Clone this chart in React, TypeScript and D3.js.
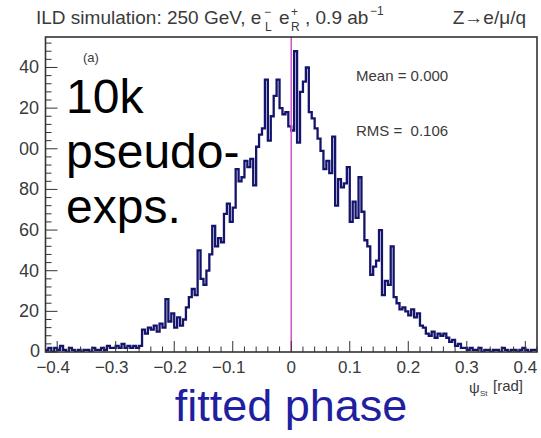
import React from 'react';
import * as d3 from 'd3';

// Histogram of fitted phase (10k pseudo-experiments)
const binLow = -0.42;
const binWidth = 0.005;
const counts: number[] = [
  1, 2, 0, 2, 1, 3, 1, 0, 2, 1, 0, 1, 0, 1, 1, 0, 2, 1, 1, 2,
  1, 3, 2, 2, 3, 2, 4, 2, 3, 2, 3, 2, 3,
  11, 9, 12, 11, 13, 10, 14, 12, 26, 15, 19, 12, 17, 13, 16, 22, 27, 31, 28, 50,
  36, 33, 40, 48, 62, 52, 56, 54, 68, 73, 64, 71, 90, 84, 86, 94, 91, 95, 82, 101,
  107, 110, 134, 104, 116, 126, 134, 120, 117, 118, 111, 109, 148, 103, 128, 133, 140, 118, 115, 110,
  105, 99, 90, 94, 88, 106, 72, 85, 81, 83, 91, 64, 74, 66, 86, 69, 55, 52, 38, 42,
  45, 60, 28, 35, 33, 52, 27, 24, 21, 22, 20, 18, 21, 17, 19, 13, 12, 9, 8, 10,
  7, 9, 8, 9, 7, 5, 6, 3, 4, 2, 2, 1, 2, 1, 1, 2, 0, 1, 1, 0,
  1, 1, 0, 2, 1, 0, 1, 1, 0, 1, 2, 1, 0, 1, 1,
];

const xDomain: [number, number] = [-0.42, 0.42];
const yDomain: [number, number] = [0, 155];
const xTicks = [-0.4, -0.3, -0.2, -0.1, 0, 0.1, 0.2, 0.3, 0.4];
const xTickLabels = ['\u22120.4', '\u22120.3', '\u22120.2', '\u22120.1', '0', '0.1', '0.2', '0.3', '0.4'];
const yTicks = [0, 20, 40, 60, 80, 100, 120, 140];
const yTickLabels = ['0', '20', '40', '60', '80', '100', '120', '140'];
const statLabels = ['Mean = 0.000', 'RMS =  0.106'];
const noteLines = ['10k', 'pseudo-', 'exps.'];
const panelLabel = '(a)';
const xTitle = 'fitted phase';
const markerValue = 0;

const W = 541;
const H = 438;
const F = 'Liberation Sans, Arial, Helvetica, sans-serif';
const frame = { left: 45.5, right: 537, top: 37, bottom: 352 };

export default function App() {
  const x = d3.scaleLinear().domain(xDomain).range([frame.left, frame.right]);
  const y = d3.scaleLinear().domain(yDomain).range([frame.bottom, frame.top]);

  const line = d3
    .line<[number, number]>()
    .x((d) => x(d[0]))
    .y((d) => y(d[1]))
    .curve(d3.curveStepAfter);
  const stepPts: [number, number][] = [];
  stepPts.push([binLow, 0]);
  counts.forEach((c, i) => stepPts.push([binLow + i * binWidth, c]));
  stepPts.push([binLow + counts.length * binWidth, 0]);
  const histPath = line(stepPts) || '';

  const xMinor = d3.range(-0.42, 0.4201, 0.02).map((v) => Math.round(v * 100) / 100);
  const yMinor = d3.range(0, 156, 4);
  const axisColor = '#333';
  const textColor = '#3a3a3a';

  return (
    <svg width={W} height={H} style={{ position: 'absolute', left: 0, top: 0, background: '#fff' }}>
      <defs>
        <clipPath id="plotclip">
          <rect x={frame.left} y={frame.top} width={frame.right - frame.left} height={frame.bottom - frame.top} />
        </clipPath>
        <clipPath id="ylabclip">
          <rect x={19.5} y={0} width={frame.left - 19.5} height={H} />
        </clipPath>
      </defs>

      {/* title */}
      <text x={36} y={24} fontFamily={F} fontSize={19} fill={textColor}>
        ILD simulation: 250 GeV, e
      </text>
      <text x={264} y={16} fontFamily={F} fontSize={12} fill={textColor}>{'\u2212'}</text>
      <text x={265} y={31} fontFamily={F} fontSize={12} fill={textColor}>L</text>
      <text x={279} y={24} fontFamily={F} fontSize={19} fill={textColor}>e</text>
      <text x={291} y={16} fontFamily={F} fontSize={12} fill={textColor}>+</text>
      <text x={291} y={31} fontFamily={F} fontSize={12} fill={textColor}>R</text>
      <text x={305} y={24} fontFamily={F} fontSize={19} fill={textColor}>, 0.9 ab</text>
      <text x={370} y={15} fontFamily={F} fontSize={12} fill={textColor}>{'\u22121'}</text>
      <text x={526} y={24} fontFamily={F} fontSize={19} fill={textColor} textAnchor="end">
        Z{'\u2192'}e/{'\u03bc'}/q
      </text>

      {/* histogram */}
      <g clipPath="url(#plotclip)">
        <path d={histPath} fill="none" stroke="#14146c" strokeWidth={2.3} strokeLinejoin="miter" />
        <line
          x1={x(markerValue)}
          x2={x(markerValue)}
          y1={frame.bottom}
          y2={frame.top}
          stroke="#cc5ccc"
          strokeWidth={1.6}
        />
      </g>

      {/* ticks */}
      {xMinor.map((v, i) => {
        const major = xTicks.some((t) => Math.abs(t - v) < 1e-6);
        return (
          <line key={'xm' + i} x1={x(v)} x2={x(v)} y1={frame.bottom} y2={frame.bottom - (major ? 11 : 5.5)} stroke={axisColor} strokeWidth={1} />
        );
      })}
      {yMinor.map((v, i) => {
        const major = v % 20 === 0;
        return (
          <line key={'ym' + i} x1={frame.left} x2={frame.left + (major ? 12 : 6)} y1={y(v)} y2={y(v)} stroke={axisColor} strokeWidth={1} />
        );
      })}

      {/* frame */}
      <rect
        x={frame.left}
        y={frame.top}
        width={frame.right - frame.left}
        height={frame.bottom - frame.top}
        fill="none"
        stroke={axisColor}
        strokeWidth={1.6}
      />

      {/* tick labels */}
      {xTicks.map((t, i) => (
        <text key={'xl' + i} x={x(t) - (t < 0 ? 4 : 0)} y={373} fontFamily={F} fontSize={17} fill={textColor} textAnchor="middle">
          {xTickLabels[i]}
        </text>
      ))}
      <g clipPath="url(#ylabclip)">
        {yTicks.map((t, i) => (
          <text key={'yl' + i} x={t === 0 ? 40 : 39} y={y(t) + (t === 0 ? 5 : 6)} fontFamily={F} fontSize={18} fill={textColor} textAnchor="end">
            {yTickLabels[i]}
          </text>
        ))}
      </g>

      {/* axis title */}
      <text x={469} y={393} fontFamily={F} fontSize={15} fill={textColor}>
        {'\u03c8'}
      </text>
      <text x={480} y={396} fontFamily={F} fontSize={8} fill={textColor}>St</text>
      <text x={493} y={391} fontFamily={F} fontSize={15} fill={textColor}>[rad]</text>

      {/* annotations */}
      <text x={83} y={62} fontFamily={F} fontSize={13} fill={textColor}>{panelLabel}</text>
      {statLabels.map((s, i) => (
        <text key={'st' + i} x={356} y={81 + i * 55} fontFamily={F} fontSize={15} fill={textColor} style={{ whiteSpace: 'pre' }}>
          {s}
        </text>
      ))}
      {noteLines.map((s, i) => (
        <text key={'nl' + i} x={66} y={113 + i * 55} fontFamily={F} fontSize={48} fill="#000">
          {s}
        </text>
      ))}
      <text x={291} y={421} fontFamily={F} fontSize={45} fill="#1f1f9f" textAnchor="middle">
        {xTitle}
      </text>
    </svg>
  );
}
